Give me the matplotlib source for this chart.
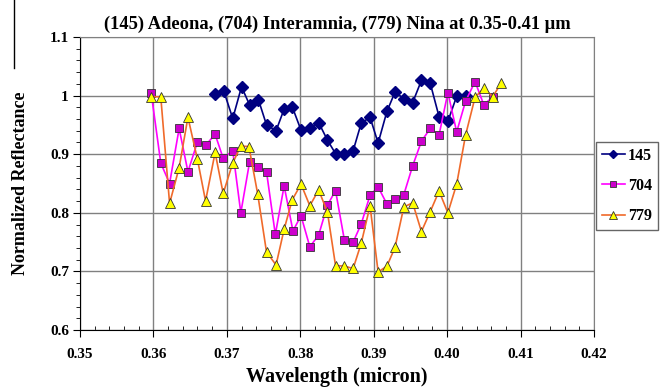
import matplotlib.pyplot as plt
from matplotlib.lines import Line2D
from matplotlib.ticker import MultipleLocator, FormatStrFormatter

# wavelength (micron) and normalized reflectance
x145 = [0.3684, 0.3696, 0.3708, 0.3720, 0.3731, 0.3743, 0.3754, 0.3767, 0.3778, 0.3789,
        0.3801, 0.3813, 0.3825, 0.3837, 0.3848, 0.3860, 0.3872, 0.3883, 0.3895, 0.3906,
        0.3918, 0.3929, 0.3941, 0.3953, 0.3965, 0.3977, 0.3989, 0.4001, 0.4013, 0.4025]
y145 = [1.003, 1.007, 0.961, 1.015, 0.984, 0.993, 0.950, 0.940, 0.977, 0.981,
        0.941, 0.945, 0.954, 0.924, 0.901, 0.901, 0.906, 0.953, 0.963, 0.919,
        0.973, 1.006, 0.995, 0.988, 1.026, 1.021, 0.964, 0.956, 0.999, 1.000]

x704 = [0.3597, 0.3610, 0.3622, 0.3635, 0.3647, 0.3660, 0.3671, 0.3684, 0.3695, 0.3708,
        0.3719, 0.3731, 0.3743, 0.3754, 0.3766, 0.3778, 0.3790, 0.3801, 0.3813, 0.3825,
        0.3837, 0.3848, 0.3860, 0.3872, 0.3883, 0.3895, 0.3906, 0.3918, 0.3929, 0.3941,
        0.3953, 0.3965, 0.3977, 0.3989, 0.4001, 0.4013, 0.4025, 0.4038, 0.4050, 0.4062]
y704 = [1.004, 0.885, 0.850, 0.944, 0.870, 0.921, 0.915, 0.934, 0.893, 0.906,
        0.800, 0.887, 0.878, 0.870, 0.763, 0.846, 0.769, 0.795, 0.742, 0.762,
        0.813, 0.838, 0.754, 0.750, 0.781, 0.830, 0.844, 0.815, 0.823, 0.831,
        0.880, 0.922, 0.944, 0.933, 1.005, 0.938, 0.990, 1.024, 0.984, 0.998]

x779 = [0.3597, 0.3610, 0.3622, 0.3635, 0.3647, 0.3660, 0.3671, 0.3684, 0.3695, 0.3708,
        0.3719, 0.3730, 0.3742, 0.3754, 0.3767, 0.3778, 0.3789, 0.3801, 0.3813, 0.3825,
        0.3837, 0.3848, 0.3860, 0.3872, 0.3883, 0.3895, 0.3906, 0.3918, 0.3929, 0.3941,
        0.3953, 0.3965, 0.3977, 0.3989, 0.4001, 0.4013, 0.4025, 0.4038, 0.4050, 0.4062,
        0.4074]
y779 = [0.998, 0.998, 0.816, 0.877, 0.963, 0.891, 0.820, 0.903, 0.833, 0.885,
        0.914, 0.913, 0.832, 0.733, 0.711, 0.772, 0.822, 0.849, 0.812, 0.839,
        0.801, 0.710, 0.709, 0.705, 0.748, 0.812, 0.699, 0.709, 0.741, 0.810,
        0.817, 0.768, 0.802, 0.837, 0.800, 0.849, 0.932, 0.997, 1.013, 0.998,
        1.022]

plt.rcParams['font.family'] = 'Liberation Serif'
plt.rcParams['font.weight'] = 'bold'

fig = plt.figure(figsize=(6.66, 3.9), dpi=100)
ax = fig.add_axes([80 / 666, 1 - 330 / 390, 514 / 666, 293 / 390])

ax.plot(x145, y145, color='#000080', lw=1.2, marker='D', ms=6,
        mfc='#000080', mec='#000080', label='145')
ax.plot(x704, y704, color='#FF00FF', lw=1.2, marker='s', ms=6,
        mfc='#CC00CC', mec='#333333', mew=0.6, label='704')
ax.plot(x779, y779, color='#F06A2A', lw=1.2, marker='^', ms=7,
        mfc='#FFFF00', mec='#333333', mew=0.6, label='779')

ax.set_xlim(0.35, 0.42)
ax.set_ylim(0.6, 1.1)
ax.xaxis.set_major_locator(MultipleLocator(0.01))
ax.xaxis.set_minor_locator(MultipleLocator(0.002))
ax.yaxis.set_major_locator(MultipleLocator(0.1))
ax.yaxis.set_minor_locator(MultipleLocator(0.02))
ax.xaxis.set_major_formatter(FormatStrFormatter('%.2f'))
ax.yaxis.set_major_formatter(plt.FuncFormatter(lambda v, p: '1' if abs(v - 1) < 1e-9 else '%.1f' % v))

ax.grid(True, which='major', color='#808080', lw=1)
ax.set_axisbelow(True)
for s in ['top', 'right']:
    ax.spines[s].set_color('#808080')
for s in ['left', 'bottom']:
    ax.spines[s].set_color('black')
ax.tick_params(axis='both', which='major', labelsize=11, length=5, direction='out')
ax.tick_params(axis='x', which='major', pad=8)
ax.tick_params(axis='y', which='major', pad=3)
ax.tick_params(axis='x', which='minor', length=3, direction='in')
ax.tick_params(axis='y', which='minor', length=3, direction='out')
for lab in ax.get_xticklabels() + ax.get_yticklabels():
    lab.set_fontweight('bold')

ax.set_xlabel('Wavelength (micron)', fontsize=14.5, fontweight='bold', labelpad=4)
ax.set_ylabel('Normalized Reflectance', fontsize=13, fontweight='bold', labelpad=15)
ax.set_title('(145) Adeona, (704) Interamnia, (779) Nina at 0.35-0.41 \u03bcm',
             fontsize=13.3, fontweight='bold', pad=6)

leg = ax.legend(loc='upper left', bbox_to_anchor=(596 / 666, 1 - 142 / 390),
                bbox_transform=fig.transFigure, borderaxespad=0,
                frameon=True, fancybox=False, edgecolor='#404040',
                prop={'weight': 'bold', 'size': 11.5}, handlelength=1.45,
                handletextpad=0.2, labelspacing=0.9, markerscale=0.75, borderpad=0.35)
leg.get_frame().set_linewidth(1)

# stray frame edge at the top left of the original image
fig.add_artist(Line2D([14 / 666, 14 / 666], [1, 1 - 68 / 390], color='black', lw=1))

fig.savefig('out.png', dpi=100)
